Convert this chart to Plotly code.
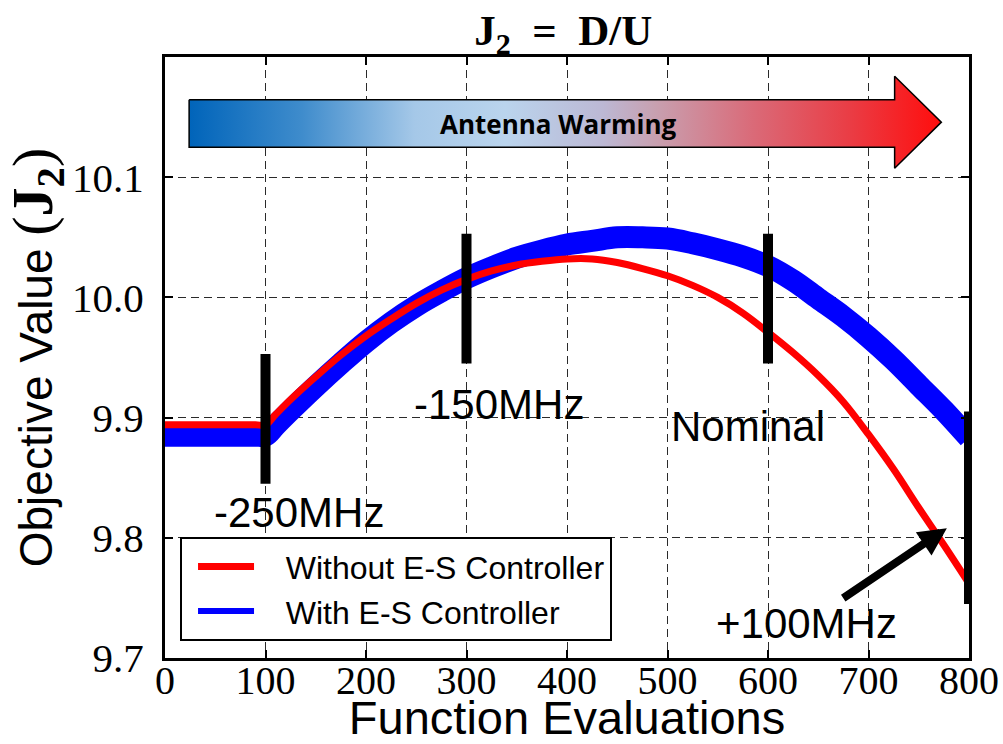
import plotly.graph_objects as go

# ---------------- data ----------------
evals = [0, 50, 90, 100, 110, 125, 150, 175, 200, 225, 250, 275, 300, 325, 350, 375, 400, 425, 450,
         475, 500, 525, 550, 575, 600, 625, 650, 675, 700, 725, 750, 775, 800]
without_es = [9.894, 9.894, 9.894, 9.894, 9.9025, 9.915, 9.934, 9.952, 9.968, 9.982, 9.995, 10.006,
              10.015, 10.022, 10.027, 10.030, 10.032, 10.032, 10.029, 10.024, 10.018, 10.010,
              10.000, 9.987, 9.971, 9.954, 9.935, 9.913, 9.886, 9.857, 9.825, 9.794, 9.762]
with_es = [9.885, 9.885, 9.885, 9.885, 9.8935, 9.906, 9.926, 9.945, 9.963, 9.979, 9.993, 10.005,
           10.016, 10.025, 10.033, 10.039, 10.044, 10.047, 10.050, 10.050, 10.049, 10.045,
           10.040, 10.034, 10.026, 10.014, 9.999, 9.984, 9.967, 9.948, 9.927, 9.906, 9.883]

event_x = [100, 300, 600, 800]
event_lo = [9.845, 9.945, 9.945, 9.745]
event_hi = [9.953, 10.053, 10.053, 9.905]
event_labels = ["-250MHz", "-150MHz", "Nominal"]
label_x = [133, 332, 580]
label_y = [9.821, 9.911, 9.893]
pointer_label = "+100MHz"
pointer_text_xy = (638, 9.729)
pointer_head_xy = (778, 9.808)

x_ticks = [0, 100, 200, 300, 400, 500, 600, 700, 800]
y_ticks = [9.7, 9.8, 9.9, 10.0, 10.1]
y_ticklabels = ["9.7", "9.8", "9.9", "10.0", "10.1"]

# decorative "Antenna Warming" arrow outline (axis coordinates)
arrow_x = [24, 726, 726, 772.5, 726, 726, 24, 24]
arrow_y = [10.1645, 10.1645, 10.184, 10.1458, 10.1075, 10.125, 10.125, 10.1645]

SANS = "Liberation Sans, Arial, sans-serif"
SERIF = "Liberation Serif, Times New Roman, serif"
NB = "\u00a0"

fig = go.Figure()

fig.add_trace(go.Scatter(
    x=arrow_x, y=arrow_y, mode="lines", fill="toself",
    line=dict(color="black", width=1.5),
    fillgradient=dict(type="horizontal", colorscale=[
        [0.0, "#0064ba"], [0.15, "#3f8ccc"], [0.30, "#a5c8e8"], [0.42, "#bad4ed"],
        [0.55, "#bcb8d4"], [0.62, "#c8a0b0"], [0.75, "#da6a78"], [0.88, "#ea3c44"],
        [1.0, "#ff0d0d"]]),
    hoverinfo="skip", showlegend=False))

# legend swatch for the blue series (same data, thin line hidden under the thick band)
fig.add_trace(go.Scatter(
    x=evals, y=with_es, mode="lines", name=NB * 3 + "With E-S Controller",
    line=dict(color="#0000ff", width=6, shape="spline", smoothing=1),
    legendgroup="with", legendrank=2))
fig.add_trace(go.Scatter(
    x=evals, y=with_es, mode="lines", name="With E-S Controller",
    line=dict(color="#0000ff", width=22, shape="spline", smoothing=1),
    legendgroup="with", showlegend=False))
fig.add_trace(go.Scatter(
    x=evals, y=without_es, mode="lines", name=NB * 3 + "Without E-S Controller",
    line=dict(color="#ff0000", width=7, shape="spline", smoothing=1), legendrank=1))

shapes = []
for xv, lo, hi in zip(event_x, event_lo, event_hi):
    shapes.append(dict(type="line", xref="x", yref="y", x0=xv, x1=xv, y0=lo, y1=hi,
                       line=dict(color="black", width=10), layer="above"))

annotations = []
for t, xv, yv in zip(event_labels, label_x, label_y):
    annotations.append(dict(x=xv, y=yv, xref="x", yref="y", text=t, showarrow=False,
                            font=dict(family=SANS, size=42, color="black"),
                            xanchor="center", yanchor="middle"))
annotations.append(dict(x=pointer_head_xy[0], y=pointer_head_xy[1],
                        ax=pointer_text_xy[0], ay=pointer_text_xy[1],
                        xref="x", yref="y", axref="x", ayref="y", text=pointer_label,
                        font=dict(family=SANS, size=42, color="black"),
                        showarrow=True, arrowhead=2, arrowsize=0.7, arrowwidth=8,
                        arrowcolor="black"))
annotations.append(dict(x=392, y=10.1445, xref="x", yref="y", text="<b>Antenna Warming</b>",
                        showarrow=False, font=dict(family="Open Sans, sans-serif", size=26, color="black"),
                        xanchor="center", yanchor="middle"))

fig.update_layout(
    width=1003, height=744,
    margin=dict(l=165, r=34, t=57, b=86),
    paper_bgcolor="white", plot_bgcolor="white",
    title=dict(text="<b>J<sub>2</sub>\u2002=\u2002D/U</b>", x=0.5615, xanchor="center",
               y=0.9597, yanchor="middle", font=dict(family=SERIF, size=43, color="black")),
    shapes=shapes, annotations=annotations,
    legend=dict(x=0.0187, y=0.028, xanchor="left", yanchor="bottom",
                bgcolor="white", bordercolor="black", borderwidth=2,
                font=dict(family=SANS, size=32, color="black"),
                traceorder="normal", itemwidth=56, indentation=11),
    showlegend=True,
)

axis_common = dict(showline=True, linecolor="black", linewidth=3, mirror="ticks",
                   ticks="inside", ticklen=8, tickwidth=1.5, tickcolor="black",
                   showgrid=True, gridcolor="#2a2a2a", gridwidth=1.2, griddash="8px,5px",
                   zeroline=False, automargin=False)

fig.update_xaxes(range=[0, 800], tickvals=x_ticks, ticktext=[str(v) for v in x_ticks],
                 ticklabelstandoff=-15,
                 tickfont=dict(family=SERIF, size=40, color="black"),
                 title=dict(text="Function Evaluations", font=dict(family=SANS, size=47, color="black"),
                            standoff=25),
                 **axis_common)
fig.update_yaxes(range=[9.7, 10.2], tickvals=y_ticks, ticktext=y_ticklabels,
                 ticklabelstandoff=10,
                 tickfont=dict(family=SERIF, size=41, color="black"),
                 title=dict(text=NB * 6 + 'Objective Value <span style="font-family:Liberation Serif;font-size:58px">(<b>J</b><sub><b>2</b></sub>)</span>',
                            font=dict(family=SANS, size=46, color="black"), standoff=12),
                 **axis_common)

fig.write_html("out.html")
